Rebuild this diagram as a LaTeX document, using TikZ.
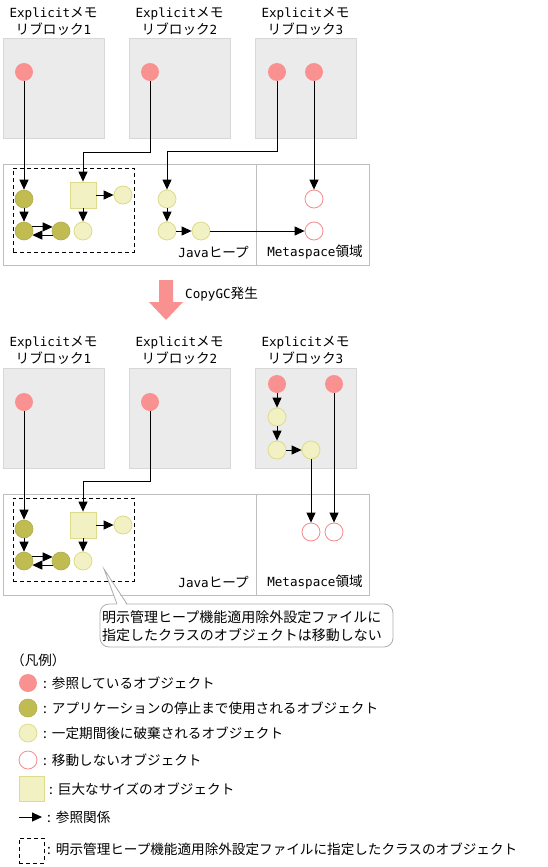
\documentclass[tikz,border=0pt]{standalone}
\usepackage{fontspec}
\setmainfont{Noto Sans CJK JP}
\newfontfamily\latmono{DejaVu Sans Mono}
\newcommand{\lat}[1]{{\latmono\fontsize{12.6pt}{17pt}\selectfont #1}}
\definecolor{RefRed}{RGB}{250,145,145}
\definecolor{LiveOlive}{RGB}{192,188,82}
\definecolor{TmpFill}{RGB}{242,241,196}
\definecolor{TmpLine}{RGB}{222,220,140}
\definecolor{PinLine}{RGB}{245,140,140}
\definecolor{BlkFill}{RGB}{235,235,235}
\definecolor{BlkLine}{RGB}{215,215,215}
\definecolor{HeapLine}{RGB}{190,190,190}
\usetikzlibrary{arrows.meta, positioning, calc}

\begin{document}
\begin{tikzpicture}[
    x=1pt, y=-1pt,
    txt/.style={font=\fontsize{13.6pt}{17pt}\selectfont, inner sep=0pt},
    obj/.style={circle, minimum size=18pt, inner sep=0pt},
    refobj/.style={obj, fill=RefRed},
    liveobj/.style={obj, fill=LiveOlive, draw=LiveOlive!92!black, line width=0.6pt},
    tmpobj/.style={obj, fill=TmpFill, draw=TmpLine, line width=0.8pt},
    pinobj/.style={obj, fill=white, draw=PinLine, line width=0.8pt},
    bigobj/.style={rectangle, minimum size=26pt, inner sep=0pt, fill=TmpFill, draw=TmpLine, line width=0.8pt},
    memblk/.style={rectangle, minimum width=101pt, minimum height=100pt, fill=BlkFill, draw=BlkLine, line width=0.8pt},
    area/.style={rectangle, minimum height=101pt, draw=HeapLine, line width=0.8pt},
    grp/.style={rectangle, draw, line width=0.9pt, dash pattern=on 4pt off 3pt},
    notebox/.style={rectangle, rounded corners=9pt, draw=gray!65, line width=0.8pt,
                    minimum width=293pt, minimum height=43pt},
    arr/.style={-{Triangle[length=10pt,width=9pt]}, line width=1pt},
  ]
    \useasboundingbox (0,0) rectangle (548,867);

    % before CopyGC
    \node[memblk] (blk1) at (53.5,88) {};
    \node[memblk] (blk2) at (179.5,88) {};
    \node[memblk] (blk3) at (305.5,88) {};
    \node[txt, align=center] (lbl1) at (53.5,21.5) {\lat{Explicit}メモ\\リブロック\lat{1}};
    \node[txt, align=center] (lbl2) at (179.5,21.5) {\lat{Explicit}メモ\\リブロック\lat{2}};
    \node[txt, align=center] (lbl3) at (305.5,21.5) {\lat{Explicit}メモ\\リブロック\lat{3}};
    \node[area, minimum width=253pt] (heap1) at (129.5,214.5) {};
    \node[area, minimum width=113pt] (meta1) at (312.5,214.5) {};
    \node[txt, anchor=east] at (249,252) {\lat{Java}ヒープ};
    \node[txt] at (315,252) {\lat{Metaspace}領域};
    \node[grp, minimum width=121pt, minimum height=84pt] (pin1) at (73.5,210) {};

    \node[refobj] (r1) at (24,72) {};
    \node[refobj] (r2) at (150,72) {};
    \node[refobj] (r3) at (277,72) {};
    \node[refobj] (r4) at (314,72) {};
    \node[liveobj] (a1) at (24,199) {};
    \node[liveobj] (a2) at (24,231) {};
    \node[liveobj] (a3) at (61,231) {};
    \node[bigobj] (big1) at (83,195) {};
    \node[tmpobj] (t1) at (123,195) {};
    \node[tmpobj] (t2) at (83,231) {};
    \node[tmpobj] (t3) at (167,199) {};
    \node[tmpobj] (t4) at (167,231) {};
    \node[tmpobj] (t5) at (201,231) {};
    \node[pinobj] (p1) at (314,199) {};
    \node[pinobj] (p2) at (314,231) {};
    \coordinate (k1) at (150,152);
    \coordinate (k2) at (277,151);

    \draw[arr](r1)--(a1);   \draw[arr](r2)--(k1)-|(big1);
    \draw[arr](r3)--(k2)-|(t3); \draw[arr](r4)--(p1);
    \draw[arr](a1)--(a2);
    \draw[arr](a2.26)--(a3.154); \draw[arr](a3.206)--(a2.-26);
    \draw[arr](big1)--(t1); \draw[arr](big1)--(t2);
    \draw[arr](t3)--(t4);   \draw[arr](t4)--(t5);
    \draw[arr](t5)--(p2);

    % CopyGC
    \fill[RefRed] (159,280) -- (173,280) -- (173,302) -- (183,302) -- (166,320)
                  -- (149,302) -- (159,302) -- cycle;
    \node[txt, anchor=west] (gc) at (185,294) {\lat{CopyGC}発生};

    % after CopyGC
    \node[memblk] (blk4) at (53.5,418.5) {};
    \node[memblk] (blk5) at (179.5,418.5) {};
    \node[memblk] (blk6) at (305.5,418.5) {};
    \node[txt, align=center] (lbl4) at (53.5,350) {\lat{Explicit}メモ\\リブロック\lat{1}};
    \node[txt, align=center] (lbl5) at (179.5,350) {\lat{Explicit}メモ\\リブロック\lat{2}};
    \node[txt, align=center] (lbl6) at (305.5,350) {\lat{Explicit}メモ\\リブロック\lat{3}};
    \node[area, minimum width=253pt] (heap2) at (129.5,544.5) {};
    \node[area, minimum width=113pt] (meta2) at (312.5,544.5) {};
    \node[txt, anchor=east] at (249,582) {\lat{Java}ヒープ};
    \node[txt] at (315,582) {\lat{Metaspace}領域};
    \node[grp, minimum width=121pt, minimum height=83pt] (pin2) at (73.5,539.5) {};

    \node[refobj] (r5) at (24,402) {};
    \node[refobj] (r6) at (150,402) {};
    \node[refobj] (r7) at (277,384) {};
    \node[refobj] (r8) at (334,384) {};
    \node[tmpobj] (t6) at (277,417) {};
    \node[tmpobj] (t7) at (277,450) {};
    \node[tmpobj] (t8) at (311,450) {};
    \node[liveobj] (a4) at (24,529) {};
    \node[liveobj] (a5) at (24,561) {};
    \node[liveobj] (a6) at (61,561) {};
    \node[bigobj] (big2) at (83,525) {};
    \node[tmpobj] (t9) at (123,525) {};
    \node[tmpobj] (t10) at (83,561) {};
    \node[pinobj] (p3) at (311,532) {};
    \node[pinobj] (p4) at (334,532) {};
    \coordinate (k3) at (150,481);

    \draw[arr](r5)--(a4);   \draw[arr](r6)--(k3)-|(big2);
    \draw[arr](r7)--(t6);   \draw[arr](t6)--(t7);
    \draw[arr](t7)--(t8);   \draw[arr](t8)--(p3);
    \draw[arr](r8)--(p4);
    \draw[arr](a4)--(a5);
    \draw[arr](a5.26)--(a6.154); \draw[arr](a6.206)--(a5.-26);
    \draw[arr](big2)--(t9); \draw[arr](big2)--(t10);

    % callout
    \node[notebox] (note) at (246.5,625.5) {};
    \coordinate (tip) at (104,569);
    \fill[white] (117.5,606) -- (tip) -- (126.5,606) -- cycle;
    \draw[gray!65, line width=0.8pt] (117,604) -- (tip) -- (127,604);
    \node[txt, font=\fontsize{14pt}{18pt}\selectfont, align=left, anchor=west] (notetxt) at (102,626)
      {明示管理ヒープ機能適用除外設定ファイルに\\指定したクラスのオブジェクトは移動しない};

    % legend
    \node[txt, anchor=west] (leg) at (11,660) {（凡例）};
    \node[refobj]  (lr) at (28,683) {};
    \node[liveobj] (lo) at (28,708) {};
    \node[tmpobj]  (lt) at (28,733) {};
    \node[pinobj]  (lp) at (28,760) {};
    \node[bigobj, minimum size=25pt] (lb) at (31.5,789) {};
    \coordinate (la1) at (19,817); \coordinate (la2) at (42,817);
    \draw[arr](la1)--(la2);
    \node[grp, minimum size=25pt] (lg) at (31.5,850.5) {};
    \node[txt, anchor=west] at (43,683) {:\hspace{5pt}参照しているオブジェクト};
    \node[txt, anchor=west] at (43,708) {:\hspace{5pt}アプリケーションの停止まで使用されるオブジェクト};
    \node[txt, anchor=west] at (43,733) {:\hspace{5pt}一定期間後に破棄されるオブジェクト};
    \node[txt, anchor=west] at (43,760) {:\hspace{5pt}移動しないオブジェクト};
    \node[txt, anchor=west] at (49,789) {:\hspace{5pt}巨大なサイズのオブジェクト};
    \node[txt, anchor=west] at (47,817) {:\hspace{5pt}参照関係};
    \node[txt, anchor=west] at (47,849) {:\hspace{5pt}明示管理ヒープ機能適用除外設定ファイルに指定したクラスのオブジェクト};
  \end{tikzpicture}
\end{document}
